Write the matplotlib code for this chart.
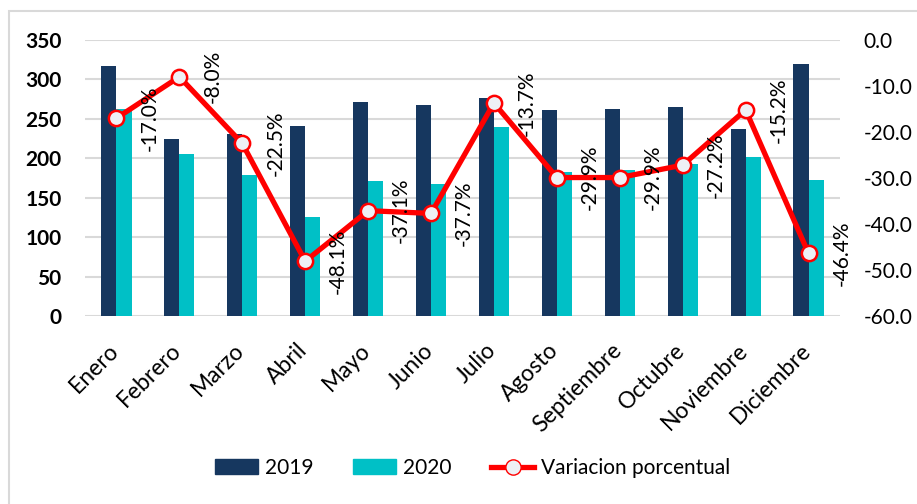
import numpy as np
import matplotlib
matplotlib.use("Agg")
import matplotlib.pyplot as plt
from matplotlib.patches import Rectangle
from matplotlib.lines import Line2D
from matplotlib.patches import Patch

plt.rcParams['font.family'] = ['Lato', 'DejaVu Sans']

# data
meses = ["Enero", "Febrero", "Marzo", "Abril", "Mayo", "Junio", "Julio",
         "Agosto", "Septiembre", "Octubre", "Noviembre", "Diciembre"]
v2019 = [317, 224, 231, 241, 272, 268, 277, 261, 263, 265, 237, 320]
v2020 = [263, 206, 179, 125, 171, 167, 240, 183, 185, 193, 201, 172]
variacion = [-17.0, -8.0, -22.5, -48.1, -37.1, -37.7, -13.7, -29.9, -29.9, -27.2, -15.2, -46.4]

c2019 = '#16375F'
c2020 = '#00C0C6'
grid_c = '#D9D9D9'

fig = plt.figure(figsize=(9.17, 5.04), dpi=100)
ax = fig.add_axes([85/917, 1-316/504, 755/917, 276/504])
ax2 = ax.twinx()

x = np.arange(len(meses))
w = 0.24
ax.bar(x - w/2, v2019, width=w, color=c2019, zorder=2)
ax.bar(x + w/2, v2020, width=w, color=c2020, zorder=2)

ax.set_xlim(-0.5, len(meses) - 0.5)
ax.set_ylim(0, 350)
ax.set_yticks(np.arange(0, 351, 50))
ax.yaxis.grid(True, color=grid_c, linewidth=1.5, zorder=0)
ax.set_axisbelow(True)
for s in ax.spines.values():
    s.set_visible(False)
for s in ax2.spines.values():
    s.set_visible(False)

ax.set_xticks(x)
ax.set_xticklabels(meses, rotation=45, ha='right', fontsize=16.5)
ax.tick_params(axis='x', length=0, pad=17)
ax.tick_params(axis='y', length=0, pad=17, labelsize=15)
for t in ax.get_yticklabels():
    t.set_fontweight('bold')
# nudge the month labels a little to the right, as in the original
for t in ax.get_xticklabels():
    t.set_transform(t.get_transform() + matplotlib.transforms.ScaledTranslation(6/100, 0, fig.dpi_scale_trans))

ax2.plot(x, variacion, color='#FF0000', linewidth=3.8, marker='o', markersize=11,
         markerfacecolor='#EEF0F5', markeredgecolor='#FF0000', markeredgewidth=1.8,
         zorder=3)
ax2.set_ylim(-60, 0)
ax2.set_yticks(np.arange(-60, 1, 10))
ax2.set_yticklabels(["%.1f" % v for v in np.arange(-60, 1, 10)])
ax2.tick_params(axis='y', length=0, pad=17, labelsize=15)

for xi, v in zip(x, variacion):
    ax2.annotate("%.1f%%" % v, (xi, v), xytext=(33, 0), textcoords='offset pixels',
                 rotation=90, ha='center', va='center', fontsize=15, zorder=4)

handles = [Patch(color=c2019, label='2019'),
           Patch(color=c2020, label='2020'),
           Line2D([0], [0], color='#FF0000', linewidth=3.8, marker='o', markersize=11,
                  markerfacecolor='#EEF0F5', markeredgecolor='#FF0000',
                  label='Variacion porcentual')]
fig.legend(handles=handles, loc='center', bbox_to_anchor=(0.515, 1-468/504), ncol=3,
           frameon=False, fontsize=15, handlelength=2.1, handleheight=0.7,
           columnspacing=1.9, handletextpad=0.3)

fig.add_artist(Rectangle((9/917, -0.1), 1.2, 1-11/504+0.1, transform=fig.transFigure,
                         fill=False, edgecolor=grid_c, linewidth=1.5))

fig.savefig("out.png", dpi=100)
